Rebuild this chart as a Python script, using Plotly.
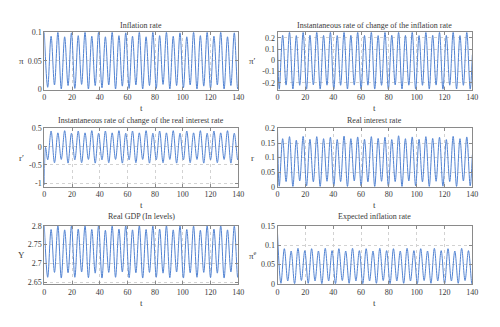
import plotly.graph_objects as go

# ---------------- data ----------------
# times of successive extrema (grid A) and shifted grid (grid B)
t_a = [0, 2.45, 4.9, 7.35, 9.8, 12.25, 14.7, 17.15, 19.6, 22.05,
       24.5, 26.95, 29.4, 31.85, 34.3, 36.75, 39.2, 41.65, 44.1, 46.55,
       49.0, 51.45, 53.9, 56.35, 58.8, 61.25, 63.7, 66.15, 68.6, 71.05,
       73.5, 75.95, 78.4, 80.85, 83.3, 85.75, 88.2, 90.65, 93.1, 95.55,
       98.0, 100.45, 102.9, 105.35, 107.8, 110.25, 112.7, 115.15, 117.6, 120.05,
       122.5, 124.95, 127.4, 129.85, 132.3, 134.75, 137.2, 139.65, 140]

t_b = [0, 1.25, 3.7, 6.15, 8.6, 11.05, 13.5, 15.95, 18.4, 20.85,
       23.3, 25.75, 28.2, 30.65, 33.1, 35.55, 38.0, 40.45, 42.9, 45.35,
       47.8, 50.25, 52.7, 55.15, 57.6, 60.05, 62.5, 64.95, 67.4, 69.85,
       72.3, 74.75, 77.2, 79.65, 82.1, 84.55, 87.0, 89.45, 91.9, 94.35,
       96.8, 99.25, 101.7, 104.15, 106.6, 109.05, 111.5, 113.95, 116.4, 118.85,
       121.3, 123.75, 126.2, 128.65, 131.1, 133.55, 136.0, 138.45, 140]

t_rp = [0, 0.9, 2.45, 4.9, 7.35, 9.8, 12.25, 14.7, 17.15, 19.6,
        22.05, 24.5, 26.95, 29.4, 31.85, 34.3, 36.75, 39.2, 41.65, 44.1,
        46.55, 49.0, 51.45, 53.9, 56.35, 58.8, 61.25, 63.7, 66.15, 68.6,
        71.05, 73.5, 75.95, 78.4, 80.85, 83.3, 85.75, 88.2, 90.65, 93.1,
        95.55, 98.0, 100.45, 102.9, 105.35, 107.8, 110.25, 112.7, 115.15, 117.6,
        120.05, 122.5, 124.95, 127.4, 129.85, 132.3, 134.75, 137.2, 139.65, 140]

inflation = [0.100, 0.004, 0.093, 0.008, 0.100, 0.001, 0.092, 0.007, 0.099, 0.002,
             0.094, 0.009, 0.100, 0.001, 0.093, 0.007, 0.100, 0.003, 0.092, 0.008,
             0.100, 0.001, 0.094, 0.006, 0.099, 0.002, 0.093, 0.008, 0.100, 0.001,
             0.092, 0.007, 0.100, 0.002, 0.094, 0.009, 0.100, 0.001, 0.093, 0.007,
             0.099, 0.003, 0.092, 0.008, 0.100, 0.001, 0.094, 0.006, 0.100, 0.002,
             0.093, 0.008, 0.100, 0.001, 0.092, 0.007, 0.099, 0.001, 0.004]

infl_change = [0.200, -0.258, 0.222, -0.220, 0.250, -0.255, 0.220, -0.222, 0.249, -0.257,
               0.223, -0.219, 0.250, -0.256, 0.221, -0.221, 0.250, -0.258, 0.220, -0.222,
               0.249, -0.255, 0.222, -0.220, 0.250, -0.257, 0.221, -0.221, 0.250, -0.256,
               0.220, -0.222, 0.249, -0.258, 0.223, -0.219, 0.250, -0.255, 0.221, -0.221,
               0.250, -0.257, 0.220, -0.222, 0.249, -0.256, 0.222, -0.220, 0.250, -0.258,
               0.221, -0.221, 0.250, -0.255, 0.220, -0.222, 0.249, -0.257, 0.050]

rate_change = [-1.05, -0.02, -0.36, 0.43, -0.44, 0.38, -0.35, 0.44, -0.45, 0.37,
               -0.36, 0.43, -0.44, 0.38, -0.35, 0.44, -0.45, 0.37, -0.36, 0.43,
               -0.44, 0.38, -0.35, 0.44, -0.45, 0.37, -0.36, 0.43, -0.44, 0.38,
               -0.35, 0.44, -0.45, 0.37, -0.36, 0.43, -0.44, 0.38, -0.35, 0.44,
               -0.45, 0.37, -0.36, 0.43, -0.44, 0.38, -0.35, 0.44, -0.45, 0.37,
               -0.36, 0.43, -0.44, 0.38, -0.35, 0.44, -0.45, 0.37, -0.36, -0.30]

real_rate = [0.200, 0.002, 0.165, 0.018, 0.172, 0.001, 0.160, 0.020, 0.173, 0.003,
             0.163, 0.017, 0.172, 0.001, 0.165, 0.019, 0.170, 0.002, 0.162, 0.018,
             0.174, 0.001, 0.165, 0.020, 0.171, 0.003, 0.163, 0.017, 0.172, 0.001,
             0.166, 0.019, 0.170, 0.002, 0.162, 0.018, 0.175, 0.001, 0.165, 0.020,
             0.171, 0.003, 0.163, 0.017, 0.172, 0.001, 0.166, 0.019, 0.170, 0.002,
             0.162, 0.018, 0.173, 0.001, 0.165, 0.020, 0.171, 0.003, 0.110]

gdp = [2.800, 2.663, 2.790, 2.676, 2.800, 2.661, 2.789, 2.675, 2.799, 2.663,
       2.791, 2.677, 2.800, 2.662, 2.790, 2.674, 2.800, 2.661, 2.788, 2.676,
       2.799, 2.663, 2.791, 2.677, 2.800, 2.662, 2.789, 2.675, 2.800, 2.661,
       2.790, 2.676, 2.799, 2.663, 2.791, 2.674, 2.800, 2.662, 2.789, 2.677,
       2.800, 2.661, 2.790, 2.675, 2.799, 2.663, 2.788, 2.676, 2.800, 2.662,
       2.791, 2.674, 2.800, 2.661, 2.789, 2.677, 2.799, 2.663, 2.668]

expected = [0.130, 0.002, 0.091, 0.008, 0.085, 0.001, 0.092, 0.009, 0.086, 0.002,
            0.091, 0.008, 0.085, 0.001, 0.092, 0.008, 0.086, 0.001, 0.091, 0.009,
            0.085, 0.002, 0.092, 0.008, 0.086, 0.001, 0.091, 0.008, 0.085, 0.002,
            0.092, 0.009, 0.086, 0.001, 0.091, 0.008, 0.085, 0.002, 0.092, 0.008,
            0.086, 0.001, 0.091, 0.009, 0.085, 0.002, 0.092, 0.008, 0.086, 0.001,
            0.091, 0.008, 0.085, 0.002, 0.092, 0.009, 0.086, 0.001, 0.006]

titles = ["Inflation rate",
          "Instantaneous rate of change of the inflation rate",
          "Instantaneous rate of change of the real interest rate",
          "Real interest rate",
          "Real GDP (In levels)",
          "Expected inflation rate"]
ylabels = ["π", "π′", "r′", "r", "Y", "π<sup>e</sup>"]
x_ticks = [0, 20, 40, 60, 80, 100, 120, 140]
y_ticks = [[0, 0.05, 0.1], [-0.2, -0.1, 0, 0.1, 0.2], [-1, -0.5, 0, 0.5],
           [0, 0.05, 0.1, 0.15, 0.2], [2.65, 2.7, 2.75, 2.8], [0, 0.05, 0.1, 0.15]]
y_ticktext = [["0", "0.05", "0.1"], ["-0.2", "-0.1", "0", "0.1", "0.2"],
              ["-1", "-0.5", "0", "0.5"], ["0", "0.05", "0.1", "0.15", "0.2"],
              ["2.65", "2.7", "2.75", "2.8"], ["0", "0.05", "0.1", "0.15"]]
y_ranges = [[0, 0.1], [-0.26, 0.25], [-1.1, 0.5], [0, 0.2], [2.645, 2.8], [0, 0.15]]

series = [(t_a, inflation), (t_b, infl_change), (t_rp, rate_change),
          (t_b, real_rate), (t_a, gdp), (t_a, expected)]

# ---------------- layout geometry (pixels) ----------------
W, H = 500, 327
cols = [(43, 240), (280, 478)]
rows = [(29, 88), (128, 188), (228, 288)]
title_y = [22, 120, 219]
t_label_y = [107, 207, 307]
ylab_x = [20, 255]

LINE = "#5283d2"
TXT = "#3a3a3a"
FONT = "Liberation Serif"
FRAME = "#8a8a8a"
GRID = "#d2d2d2"

fig = go.Figure()
layout = dict(width=W, height=H, margin=dict(l=0, r=0, t=0, b=0),
              paper_bgcolor="white", plot_bgcolor="white", showlegend=False,
              font=dict(family=FONT, size=8, color=TXT))
annotations = []

for i in range(6):
    r, c = divmod(i, 2)
    n = "" if i == 0 else str(i + 1)
    x0, x1 = cols[c]
    y0, y1 = rows[r]
    tx, ty = series[i]
    fig.add_trace(go.Scatter(x=tx, y=ty, mode="lines",
                             line=dict(color=LINE, width=1, shape="spline", smoothing=1.0),
                             xaxis="x" + n, yaxis="y" + n, hoverinfo="skip"))
    common = dict(showline=True, mirror="ticks", linecolor=FRAME, linewidth=1,
                  ticks="inside", ticklen=3, tickcolor=FRAME,
                  showgrid=True, gridcolor=GRID, griddash="dot", gridwidth=1,
                  zeroline=False, tickfont=dict(family=FONT, size=8, color=TXT))
    layout["xaxis" + n] = dict(common, domain=[x0 / W, x1 / W], range=[0, 140],
                               tickvals=x_ticks, ticktext=[str(v) for v in x_ticks],
                               anchor="y" + n)
    layout["yaxis" + n] = dict(common, domain=[1 - y1 / H, 1 - y0 / H], range=y_ranges[i],
                               tickvals=y_ticks[i], ticktext=y_ticktext[i],
                               anchor="x" + n)
    annotations.append(dict(text=titles[i], x=(x0 + x1) / 2 / W, y=1 - title_y[r] / H,
                            xref="paper", yref="paper", showarrow=False,
                            xanchor="center", yanchor="middle",
                            font=dict(family=FONT, size=8, color=TXT)))
    annotations.append(dict(text="t", x=(x0 + x1) / 2 / W, y=1 - t_label_y[r] / H,
                            xref="paper", yref="paper", showarrow=False,
                            xanchor="center", yanchor="middle",
                            font=dict(family=FONT, size=9, color=TXT)))
    annotations.append(dict(text=ylabels[i], x=ylab_x[c] / W, y=1 - (y0 + y1) / 2 / H,
                            xref="paper", yref="paper", showarrow=False,
                            xanchor="center", yanchor="middle",
                            font=dict(family=FONT, size=9, color=TXT)))

layout["annotations"] = annotations
fig.update_layout(**layout)
fig.write_html("out.html")
